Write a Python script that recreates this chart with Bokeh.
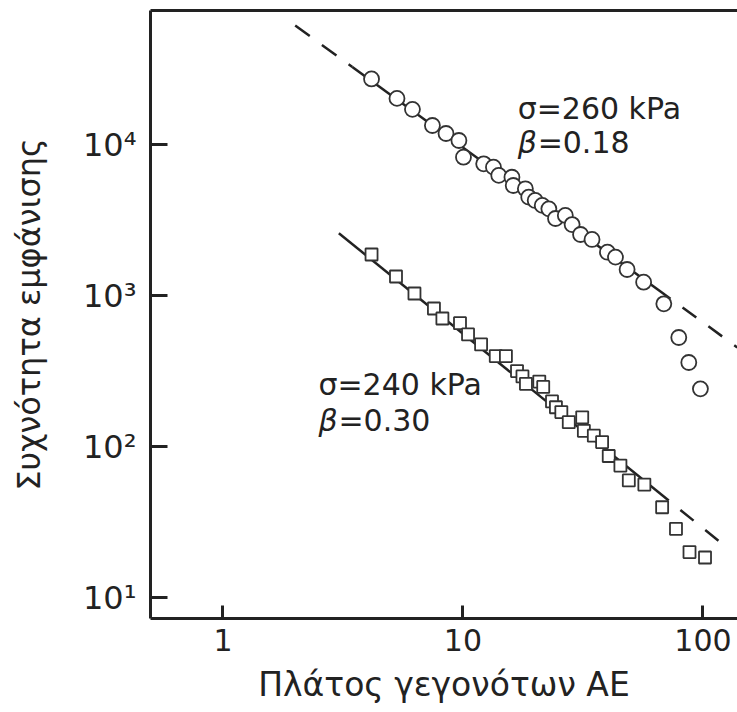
from bokeh.plotting import figure
from bokeh.models import FixedTicker, Label, LogAxis, Range1d
from bokeh.embed import file_html
from bokeh.resources import INLINE

# ---- data ----
# sigma = 260 kPa (circles)
amp_260 = [4.16, 5.31, 6.16, 7.46, 8.50, 9.62, 10.05, 12.2, 13.4, 14.1,
           16.0, 16.2, 18.2, 18.8, 20.0, 21.4, 22.8, 24.3, 26.7, 28.5,
           30.9, 34.5, 40.0, 43.2, 48.3, 56.6, 68.7, 79.3, 87.3, 97.6]
freq_260 = [27170, 20190, 17100, 13360, 11830, 10630, 8240, 7450, 7080, 6240,
            6070, 5350, 5090, 4480, 4260, 3950, 3750, 3235, 3390, 2950,
            2535, 2350, 1935, 1795, 1487, 1225, 881, 527, 360, 241]

# sigma = 240 kPa (squares)
amp_240 = [4.16, 5.26, 6.28, 7.57, 8.21, 9.72, 10.5, 11.9, 13.7, 15.1,
           16.8, 17.7, 18.3, 20.8, 21.6, 23.5, 24.4, 25.7, 27.6, 31.4,
           31.9, 35.1, 38.0, 40.5, 45.3, 49.1, 57.0, 67.6, 77.2, 87.9, 102]
freq_240 = [1869, 1336, 1031, 820, 704, 656, 552, 474, 397, 397,
            316, 291, 260, 269, 248, 199, 182, 169, 145, 156,
            127, 118, 107, 86.5, 74.8, 59.6, 56.0, 39.6, 28.5, 20.0, 18.4]

# fitted power-law lines (dashed start, solid start, solid end, dashed end)
fit_260_x = [2.0, 3.46, 73.2, 139.0]
fit_260_y = [61400, 32600, 953, 453]
fit_240_x = [3.04, 72.0, 120.6]
fit_240_y = [2586, 43.9, 22.6]

x_ticks = [1, 10, 100]
x_tick_labels = ["1", "10", "100"]
y_ticks = [10, 100, 1000, 10000]
y_tick_labels = ["10¹", "10²", "10³", "10⁴"]

x_title = "Πλάτος γεγονότων ΑΕ"
y_title = "Συχνότητα εμφάνισης"

FONT = "DejaVu Sans"
INK = "#222222"

p = figure(x_axis_type="log", y_axis_type="log",
           x_range=Range1d(0.499, 139.3), y_range=Range1d(7.26, 77170),
           frame_width=587, frame_height=608,
           min_border_left=150, min_border_right=0, min_border_top=10, min_border_bottom=88,
           output_backend="svg", toolbar_location=None,
           outline_line_color=None, background_fill_color="white", border_fill_color="white")
p.xgrid.visible = False
p.ygrid.visible = False

for ax in (p.xaxis[0], p.yaxis[0]):
    ax.axis_line_width = 3
    ax.axis_line_color = INK
    ax.major_tick_line_width = 3
    ax.major_tick_line_color = INK
    ax.major_tick_out = 0
    ax.minor_tick_line_color = None
    ax.major_label_text_font = FONT
    ax.major_label_text_color = INK
    ax.axis_label_text_font = FONT
    ax.axis_label_text_color = INK
    ax.axis_label_text_font_style = "normal"

p.xaxis.ticker = FixedTicker(ticks=x_ticks)
p.xaxis.major_label_overrides = dict(zip(x_ticks, x_tick_labels))
p.xaxis.major_tick_in = 13
p.xaxis.major_label_text_font_size = "30px"
p.xaxis.major_label_standoff = 10
p.xaxis.axis_label = x_title
p.xaxis.axis_label_text_font_size = "33px"
p.xaxis.axis_label_standoff = 11

p.yaxis.ticker = FixedTicker(ticks=y_ticks)
p.yaxis.major_label_overrides = dict(zip(y_ticks, y_tick_labels))
p.yaxis.major_tick_in = 17
p.yaxis.major_label_text_font_size = "32px"
p.yaxis.major_label_standoff = 14
p.yaxis.axis_label = y_title
p.yaxis.axis_label_text_font_size = "32px"
p.yaxis.axis_label_standoff = 32

top = LogAxis(ticker=FixedTicker(ticks=[]), axis_line_width=3, axis_line_color=INK,
              major_tick_in=0, major_tick_out=0, minor_tick_in=0, minor_tick_out=0,
              major_label_text_font_size="0px", major_label_standoff=0)
p.add_layout(top, "above")

# fit lines
p.line(fit_260_x[1:3], fit_260_y[1:3], line_color=INK, line_width=2.5)
p.line(fit_260_x[0:2], fit_260_y[0:2], line_color=INK, line_width=2.5, line_dash="18 15")
p.line(fit_260_x[2:4], fit_260_y[2:4], line_color=INK, line_width=2.5, line_dash="17 15",
       line_dash_offset=17)
p.line(fit_240_x[0:2], fit_240_y[0:2], line_color=INK, line_width=2.5)
p.line(fit_240_x[1:3], fit_240_y[1:3], line_color=INK, line_width=2.5, line_dash="17 15",
       line_dash_offset=17)

# data points
p.scatter(amp_260, freq_260, marker="circle", size=15, fill_color="white",
          line_color="#333333", line_width=1.8)
p.scatter(amp_240, freq_240, marker="square", size=12, fill_color="white",
          line_color="#333333", line_width=1.8)

def add_text(x, y, text, x_offset=0, italic=False):
    p.add_layout(Label(x=x, y=y, x_offset=x_offset, text=text, text_font=FONT,
                       text_font_size="30px", text_color=INK,
                       text_font_style="italic" if italic else "normal",
                       text_baseline="alphabetic", text_align="left"))

add_text(16.9, 17300, "σ=260 kPa")
add_text(16.9, 10300, "β", italic=True)
add_text(16.9, 10300, "=0.18", x_offset=20)
add_text(2.5, 257, "σ=240 kPa")
add_text(2.5, 149, "β", italic=True)
add_text(2.5, 149, "=0.30", x_offset=20)

open("out.html", "w").write(file_html(p, INLINE))
